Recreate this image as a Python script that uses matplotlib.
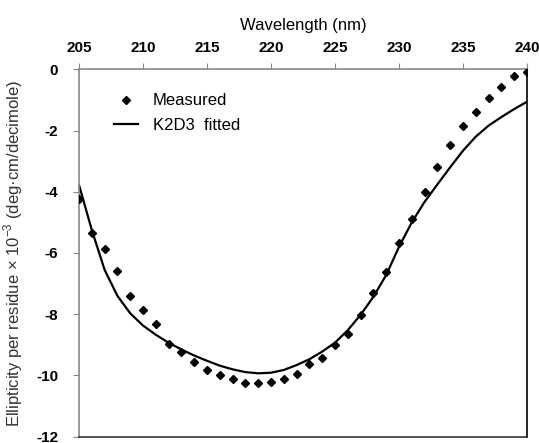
import numpy as np
import matplotlib.pyplot as plt

plt.rcParams['font.family'] = ['Liberation Sans', 'DejaVu Sans']
plt.rcParams['axes.unicode_minus'] = False

# wavelength grid (nm)
wavelength = np.arange(205, 241)

measured = [-4.25, -5.35, -5.88, -6.59, -7.40, -7.85, -8.33, -8.98, -9.23, -9.56,
            -9.83, -9.99, -10.12, -10.24, -10.26, -10.20, -10.11, -9.94, -9.64, -9.43,
            -8.99, -8.65, -8.02, -7.30, -6.61, -5.68, -4.90, -4.01, -3.20, -2.48,
            -1.86, -1.40, -0.94, -0.59, -0.22, -0.10]

fitted = [-3.78, -5.25, -6.55, -7.40, -7.97, -8.37, -8.67, -8.93, -9.15, -9.35,
          -9.52, -9.68, -9.80, -9.89, -9.93, -9.91, -9.82, -9.66, -9.47, -9.22,
          -8.93, -8.52, -8.02, -7.43, -6.72, -5.80, -5.00, -4.33, -3.76, -3.20,
          -2.66, -2.20, -1.84, -1.56, -1.30, -1.06]

fig = plt.figure(figsize=(5.39, 4.43), dpi=100)
ax = fig.add_axes([0.1466, 0.0142, 0.8311, 0.8294])

ax.plot(wavelength, fitted, color='black', lw=1.6, label='K2D3  fitted', zorder=2)
ax.plot(wavelength, measured, 'D', color='black', ms=4.2, ls='none', label='Measured', zorder=3)

ax.set_xlim(205, 240)
ax.set_ylim(-12, 0)
ax.set_xticks(np.arange(205, 241, 5))
ax.set_yticks(np.arange(-12, 1, 2))

ax.xaxis.tick_top()
ax.xaxis.set_label_position('top')
ax.tick_params(axis='both', direction='out', length=4, color='#888888', labelsize=11)
ax.tick_params(axis='x', pad=6)
ax.tick_params(axis='y', pad=11)
for lab in ax.get_xticklabels() + ax.get_yticklabels():
    lab.set_fontweight('bold')

ax.set_xlabel('Wavelength (nm)', fontsize=12, labelpad=8)
ax.set_ylabel('Ellipticity per residue × 10$^{\\mathregular{-3}}$ (deg·cm/decimole)',
              fontsize=12, color='#333333', labelpad=8)

ax.spines['left'].set_color('#888888')
ax.spines['top'].set_color('#888888')
ax.spines['right'].set_color('black')
ax.spines['bottom'].set_color('#333333')
for s in ax.spines.values():
    s.set_linewidth(1.2)

handles, labels = ax.get_legend_handles_labels()
ax.legend(handles[::-1], labels[::-1], loc='upper left', bbox_to_anchor=(0.045, 0.975),
          frameon=False, fontsize=12, handlelength=1.4, handletextpad=0.9, labelspacing=0.55)

fig.savefig('out.png', dpi=100)
